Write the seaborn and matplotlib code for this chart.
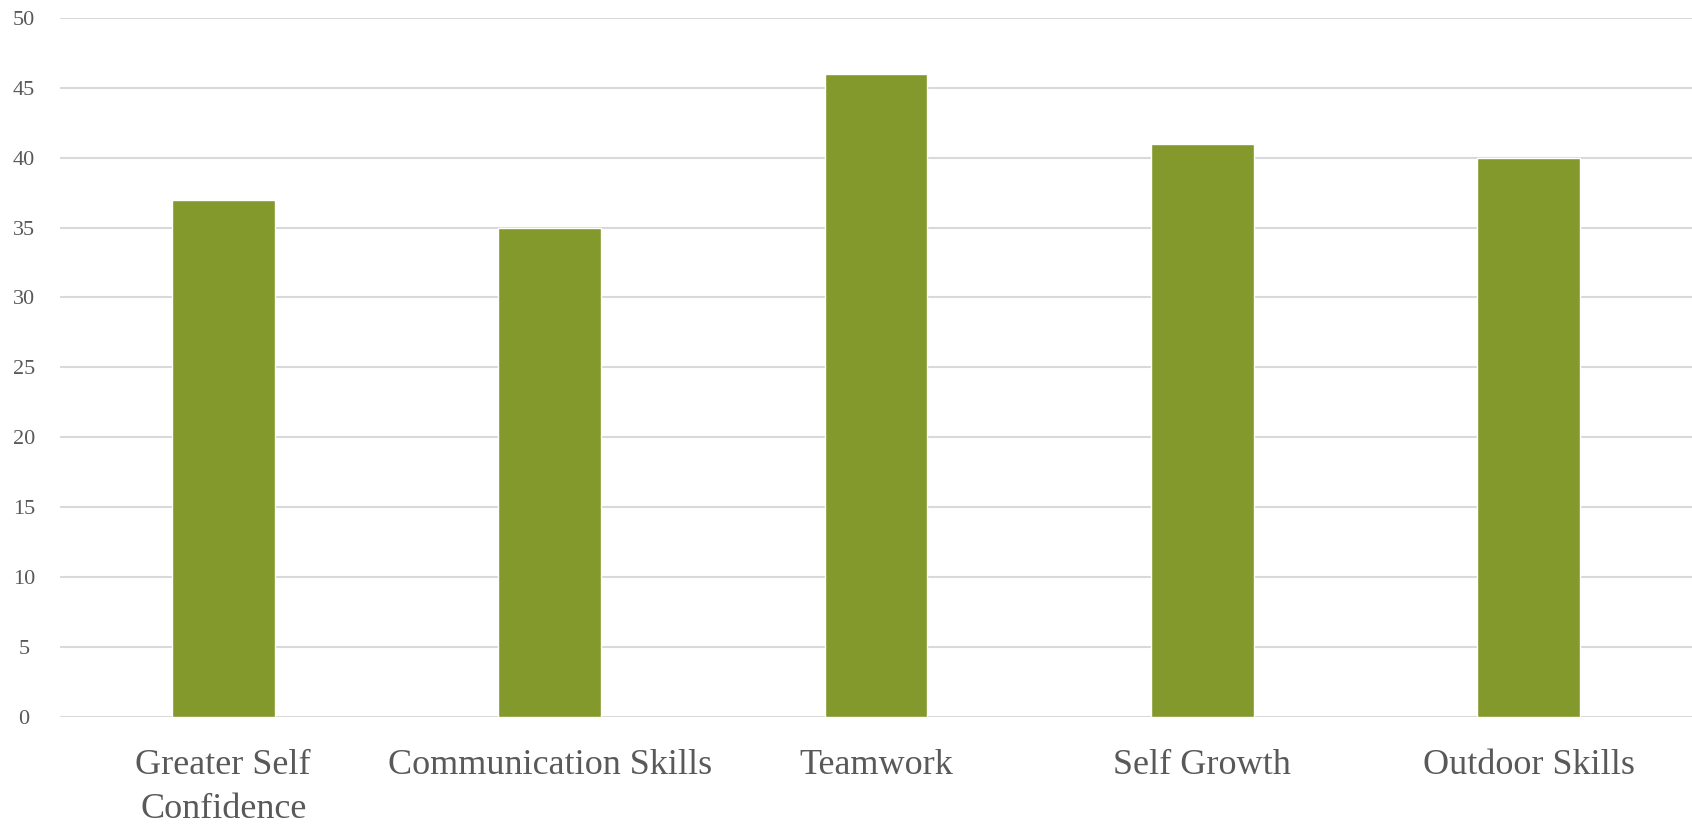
import matplotlib
matplotlib.use("Agg")
import matplotlib.pyplot as plt
import seaborn as sns
import pandas as pd

# Survey outcome counts per skill area
categories = ["Greater Self\nConfidence", "Communication Skills", "Teamwork",
              "Self Growth", "Outdoor Skills"]
values = [37, 35, 46, 41, 40]
y_ticks = [0, 5, 10, 15, 20, 25, 30, 35, 40, 45, 50]

bar_color = "#84992C"
grid_color = "#D9D9D9"
text_color = "#595959"

sns.set_theme(style="white")
plt.rcParams["font.family"] = ["Liberation Serif", "DejaVu Serif"]

df = pd.DataFrame({"category": categories, "value": values})

fig = plt.figure(figsize=(16.92, 8.26), dpi=100)
ax = fig.add_axes([60 / 1692, 1 - 716.7 / 826, 1 - 60 / 1692, (716.7 - 18) / 826])

sns.barplot(data=df, x="category", y="value", color=bar_color, width=0.315,
            saturation=1, ax=ax, zorder=3)

ax.set_ylim(0, 50)
ax.set_yticks(y_ticks)
ax.set_xlim(-0.5, len(categories) - 0.5)
ax.yaxis.grid(True, color=grid_color, linewidth=1.5, zorder=0)
ax.xaxis.grid(False)
ax.set_axisbelow(True)
for s in ax.spines.values():
    s.set_visible(False)

ax.set_xlabel("")
ax.set_ylabel("")
ax.tick_params(axis="y", length=0, pad=26, labelsize=16, labelcolor=text_color)
ax.tick_params(axis="x", length=0, pad=23, labelsize=26, labelcolor=text_color)
for lbl in ax.get_yticklabels():
    lbl.set_horizontalalignment("center")
for lbl in ax.get_xticklabels():
    lbl.set_linespacing(1.45)

fig.savefig("out.png", dpi=100)
